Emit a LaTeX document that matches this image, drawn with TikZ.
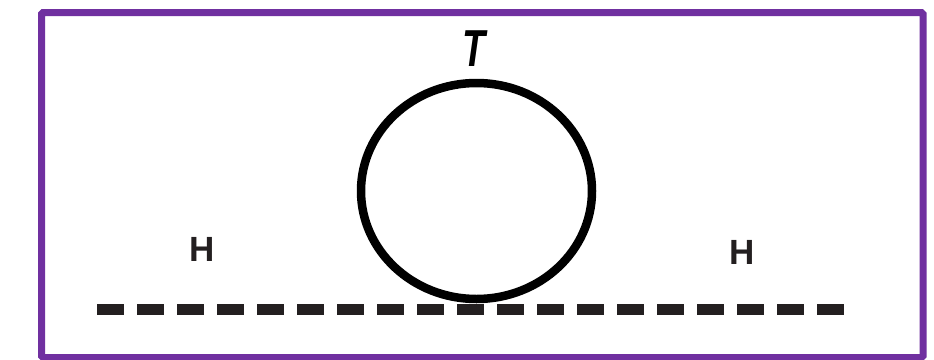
\documentclass[tikz,border=0pt]{standalone}
\usepackage{fontspec}
\setmainfont{Liberation Sans}
\usetikzlibrary{shapes.geometric}
\definecolor{framepurple}{RGB}{112,48,160}
\definecolor{inkdark}{RGB}{35,31,32}
\tikzset{
  frame/.style={draw=framepurple, line width=7pt, rounded corners=1.5pt},
  ring/.style={ellipse, draw=black, line width=8.5pt, minimum width=231pt, minimum height=216pt, inner sep=0pt},
  baseline dash/.style={draw=inkdark, line width=10.5pt, dash pattern=on 27pt off 13pt},
  hlabel/.style={inner sep=0pt, text=inkdark, font=\fontsize{35}{35}\selectfont\bfseries},
  tlabel/.style={inner sep=0pt, font=\fontsize{52}{52}\selectfont\bfseries\itshape}
}
\begin{document}
\begin{tikzpicture}[x=1pt,y=-1pt]
\useasboundingbox (0,0) rectangle (934,359);
\fill[white] (0,0) rectangle (934,359);
\draw[frame] (41.5,12.5) rectangle (923,357.5);
\coordinate (lineL) at (97,309.5);
\coordinate (lineR) at (844,309.5);
\draw[baseline dash] (lineL) -- (lineR);
\node[ring] (circ) at (476.5,191) {};
\node[tlabel] (T) at (474,49) {\scalebox{0.72}[1]{T}};
\node[hlabel] (HL) at (202.5,249.5) {H};
\node[hlabel] (HR) at (742,252) {H};
\end{tikzpicture}
\end{document}
